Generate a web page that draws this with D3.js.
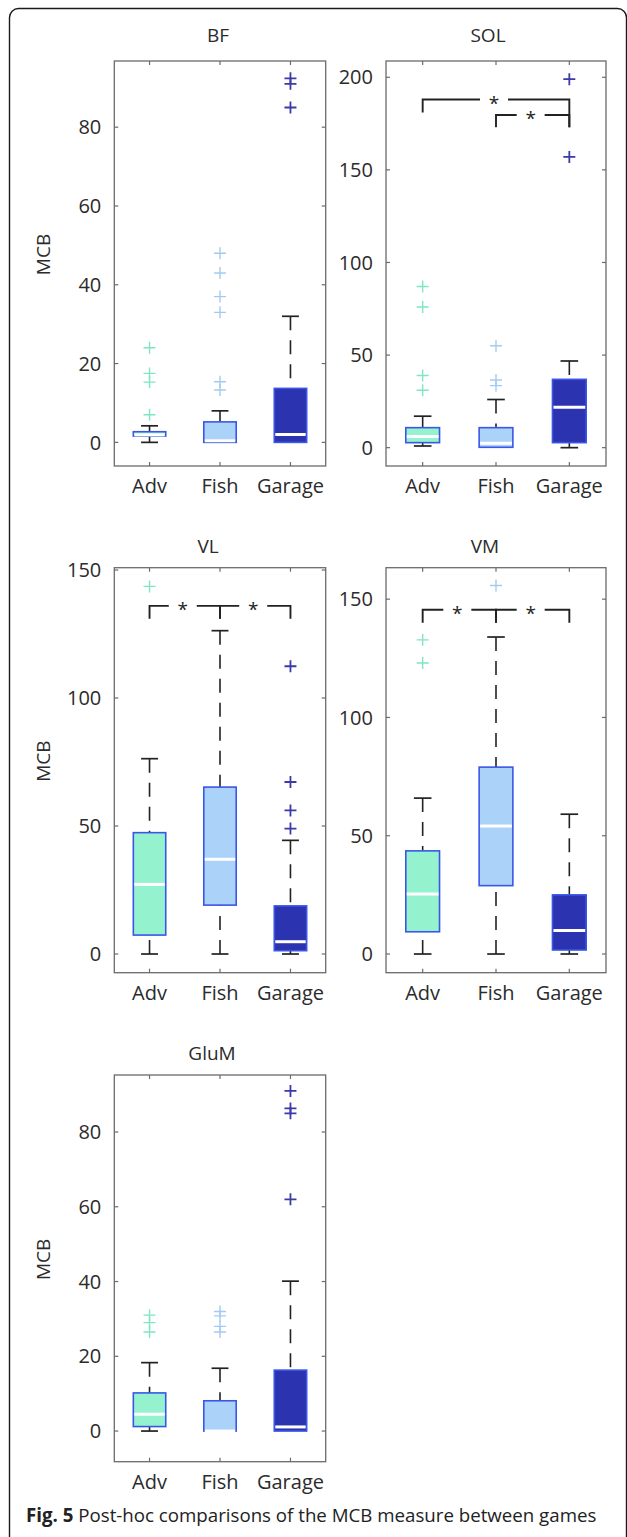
<!DOCTYPE html>
<html>
<head>
<meta charset="utf-8">
<script src="https://cdn.jsdelivr.net/npm/d3@7"></script>
<style>
  body { margin: 0; background: #fff; }
  svg { display: block; }
  text { font-family: "Open Sans", sans-serif; }
</style>
</head>
<body>
<div id="chart"></div>
<script>
// --- data ---
const games = ["Adv", "Fish", "Garage"];
const muscles = ["BF", "SOL", "VL", "VM", "GluM"];

// per game: [lower whisker, q1, median, q3, upper whisker]
const statsBF   = [[0, 1.6, 1.9, 2.7, 4.2],   [0, 0, 0.4, 5.2, 8],     [0, 0, 2, 13.7, 32]];
const statsSOL  = [[0.9, 2.7, 6, 10.8, 17],   [0, 0.2, 2.4, 10.8, 26], [0, 2.7, 21.8, 36.9, 46.8]];
const statsVL   = [[0, 7.4, 27.2, 47.4, 76.3],[0, 19.1, 37, 65.2, 126.3],[0, 1.3, 4.8, 18.8, 44.4]];
const statsVM   = [[0, 9.4, 25.4, 43.6, 65.9],[0, 28.9, 54.1, 79, 134], [0, 1.7, 9.9, 25, 59.1]];
const statsGluM = [[0, 1.2, 4.5, 10.2, 18.3], [0, 0, 0, 8.1, 16.8],    [0, 0, 1.1, 16.3, 40.1]];

const outliersBF   = [[24, 17.5, 15.3, 7], [48, 43, 37, 33, 15.4, 13.3], [92.4, 91, 85]];
const outliersSOL  = [[87, 76, 39, 31], [55, 36.5, 33.5], [199, 157]];
const outliersVL   = [[143.6], [], [112.4, 67.2, 56.1, 49]];
const outliersVM   = [[132.8, 123], [155.8], []];
const outliersGluM = [[31, 29, 26.5], [32, 30.8, 28, 26.5], [91, 86.3, 85, 62]];

const yTicksBF   = [0, 20, 40, 60, 80];
const yTicksSOL  = [0, 50, 100, 150, 200];
const yTicksVL   = [0, 50, 100, 150];
const yTicksVM   = [0, 50, 100, 150];
const yTicksGluM = [0, 20, 40, 60, 80];

const yRangeBF   = [-6, 96.8];
const yRangeSOL  = [-9.9, 208.8];
const yRangeVL   = [-7.3, 150.9];
const yRangeVM   = [-7.9, 163.3];
const yRangeGluM = [-8.2, 95.25];

// significance brackets: a, b = game index, y = bar height, la/lb = leg ends
const sigSOL = [{a: 0, b: 2, y: 188, la: 181, lb: 173}, {a: 1, b: 2, y: 179.6, la: 173, lb: 173}];
const sigVL  = [{a: 0, b: 1, y: 136, la: 131, lb: 131}, {a: 1, b: 2, y: 136, la: 131, lb: 131}];
const sigVM  = [{a: 0, b: 1, y: 145.5, la: 140, lb: 140}, {a: 1, b: 2, y: 145.5, la: 140, lb: 140}];

const captionBold = "Fig. 5";
const captionText = " Post-hoc comparisons of the MCB measure between games";

// --- style ---
const fillColors = ["#94f2cf", "#abd3f9", "#2c33b0"];
const outlierColors = ["#7fe6c0", "#a3cbf2", "#3a3aa8"];
const edgeColor = "#3a56e6";
const axisColor = "#6b6b6b";
const whiskerColor = "#222";
const textColor = "#2b2b2b";

// --- layout (pixel positions of each axes box) ---
const panels = [
  {name: "BF",   stats: statsBF,   out: outliersBF,   ticks: yTicksBF,   yr: yRangeBF,   sig: [],     x0: 114.3, x1: 325.7, y0: 61,    y1: 466,    ylabel: true,  tdx: -2,  tdy: 19.5},
  {name: "SOL",  stats: statsSOL,  out: outliersSOL,  ticks: yTicksSOL,  yr: yRangeSOL,  sig: sigSOL, x0: 386,   x1: 606,   y0: 61,    y1: 466,    ylabel: false, tdx: -8,  tdy: 19.5},
  {name: "VL",   stats: statsVL,   out: outliersVL,   ticks: yTicksVL,   yr: yRangeVL,   sig: sigVL,  x0: 114.3, x1: 325.7, y0: 567.7, y1: 972.7,  ylabel: true,  tdx: -12, tdy: 14.5},
  {name: "VM",   stats: statsVM,   out: outliersVM,   ticks: yTicksVM,   yr: yRangeVM,   sig: sigVM,  x0: 386,   x1: 606,   y0: 567.7, y1: 972.7,  ylabel: false, tdx: -11, tdy: 14.5},
  {name: "GluM", stats: statsGluM, out: outliersGluM, ticks: yTicksGluM, yr: yRangeGluM, sig: [],     x0: 114.3, x1: 325.7, y0: 1075,  y1: 1461.7, ylabel: true,  tdx: -8,  tdy: 15}
];

const width = 627, height = 1537;
const svg = d3.select("#chart").append("svg")
  .attr("width", width)
  .attr("height", height)
  .attr("viewBox", `0 0 ${width} ${height}`);

// outer frame (cut off at right and bottom like the source)
svg.append("rect")
  .attr("x", 9.5).attr("y", 8.5)
  .attr("width", 617).attr("height", 1560)
  .attr("rx", 9)
  .attr("fill", "none")
  .attr("stroke", "#1a1a1a")
  .attr("stroke-width", 1.4);

panels.forEach(p => {
  const g = svg.append("g").attr("class", "panel");
  const x = d3.scaleLinear().domain([0.5, 3.5]).range([p.x0, p.x1]);
  const y = d3.scaleLinear().domain(p.yr).range([p.y1, p.y0]);
  const half = 0.23, capHalf = 0.12;
  const bw = x(1 + half) - x(1 - half);

  // axes box
  g.append("rect")
    .attr("x", p.x0).attr("y", p.y0)
    .attr("width", p.x1 - p.x0).attr("height", p.y1 - p.y0)
    .attr("fill", "none").attr("stroke", axisColor).attr("stroke-width", 1.3);

  // inward ticks on all four sides
  p.ticks.forEach(t => {
    g.append("line").attr("x1", p.x0).attr("x2", p.x0 + 4).attr("y1", y(t)).attr("y2", y(t))
      .attr("stroke", axisColor).attr("stroke-width", 1.2);
    g.append("line").attr("x1", p.x1).attr("x2", p.x1 - 4).attr("y1", y(t)).attr("y2", y(t))
      .attr("stroke", axisColor).attr("stroke-width", 1.2);
  });
  g.selectAll(".ytl").data(p.ticks).enter().append("text")
    .attr("x", p.x0 - 13).attr("y", d => y(d)).attr("dy", "0.36em")
    .attr("text-anchor", "end").attr("font-size", 20).attr("fill", textColor)
    .text(d => d);

  games.forEach((name, i) => {
    const cx = x(i + 1);
    g.append("line").attr("x1", cx).attr("x2", cx).attr("y1", p.y1).attr("y2", p.y1 - 4)
      .attr("stroke", axisColor).attr("stroke-width", 1.2);
    g.append("line").attr("x1", cx).attr("x2", cx).attr("y1", p.y0).attr("y2", p.y0 + 4)
      .attr("stroke", axisColor).attr("stroke-width", 1.2);
    g.append("text").attr("x", cx).attr("y", p.y1 + 27)
      .attr("text-anchor", "middle").attr("font-size", 20).attr("fill", textColor)
      .text(name);
  });

  // boxes
  p.stats.forEach((s, i) => {
    const [lo, q1, med, q3, hi] = s;
    const cx = x(i + 1);
    // whiskers (dashed, drawn from whisker end toward box)
    [[hi, q3], [lo, q1]].forEach(([a, b]) => {
      if (Math.abs(y(a) - y(b)) < 0.5) return;
      g.append("line").attr("x1", cx).attr("x2", cx).attr("y1", y(a)).attr("y2", y(b))
        .attr("stroke", whiskerColor).attr("stroke-width", 1.6)
        .attr("stroke-dasharray", "14,10");
      g.append("line").attr("x1", x(i + 1 - capHalf)).attr("x2", x(i + 1 + capHalf))
        .attr("y1", y(a)).attr("y2", y(a))
        .attr("stroke", whiskerColor).attr("stroke-width", 1.7);
    });
    g.append("rect")
      .attr("x", x(i + 1 - half)).attr("y", y(q3))
      .attr("width", bw).attr("height", Math.max(0.5, y(q1) - y(q3)))
      .attr("fill", fillColors[i]).attr("stroke", edgeColor).attr("stroke-width", 1.6);
    g.append("line")
      .attr("x1", x(i + 1 - half) + 1).attr("x2", x(i + 1 + half) - 1)
      .attr("y1", y(med)).attr("y2", y(med))
      .attr("stroke", "#fff").attr("stroke-width", 3);

    // outliers as '+'
    g.selectAll(null).data(p.out[i]).enter().append("path")
      .attr("d", d => `M${cx - 6},${y(d)}H${cx + 6}M${cx},${y(d) - 6}V${y(d) + 6}`)
      .attr("fill", "none").attr("stroke", outlierColors[i])
      .attr("stroke-width", i === 2 ? 1.8 : 1.4);
  });

  // significance brackets
  p.sig.forEach(b => {
    const xa = x(b.a + 1), xb = x(b.b + 1), yy = y(b.y);
    const xm = (xa + xb) / 2 - 2, gap = 14;
    g.append("path")
      .attr("d", `M${xa},${y(b.la)}V${yy}H${xm - gap}M${xm + gap},${yy}H${xb}V${y(b.lb)}`)
      .attr("fill", "none").attr("stroke", "#222").attr("stroke-width", 1.9);
    g.append("text").attr("x", xm).attr("y", yy + 10)
      .attr("text-anchor", "middle").attr("font-size", 19).attr("fill", "#222")
      .text("*");
  });

  // title
  g.append("text").attr("x", (p.x0 + p.x1) / 2 + p.tdx).attr("y", p.y0 - p.tdy)
    .attr("text-anchor", "middle").attr("font-size", 19).attr("fill", textColor)
    .text(p.name);

  if (p.ylabel) {
    const cy = (p.y0 + p.y1) / 2 - 9;
    g.append("text")
      .attr("transform", `translate(43,${cy}) rotate(-90)`)
      .attr("text-anchor", "middle").attr("dominant-baseline", "central")
      .attr("font-size", 19).attr("fill", textColor)
      .text("MCB");
  }
});

// caption
const cap = svg.append("text").attr("x", 26).attr("y", 1522)
  .attr("font-size", 18.7).attr("fill", "#222");
cap.append("tspan").attr("font-weight", "bold").text(captionBold);
cap.append("tspan").text(captionText);
</script>
</body>
</html>
